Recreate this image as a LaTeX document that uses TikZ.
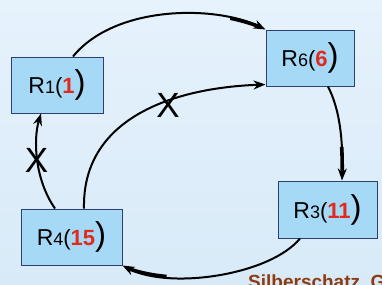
\documentclass[tikz,border=0pt]{standalone}
\usepackage{fontspec}
\setmainfont{Liberation Sans}
\usetikzlibrary{arrows.meta}
\definecolor{bgtop}{HTML}{E6F2FC}
\definecolor{bgbot}{HTML}{D8EAF8}
\definecolor{boxfill}{HTML}{A5D9F6}
\definecolor{boxdraw}{HTML}{2E3F73}
\definecolor{numred}{HTML}{E02A1E}
\definecolor{credit}{HTML}{8E3B12}
\tikzset{
  proc/.style={draw=boxdraw, fill=boxfill, line width=1pt, inner sep=0pt, minimum height=56pt},
  conn/.style={line width=2pt, -{Stealth[length=12pt,width=9pt]}},
  heavy/.style={line width=3.6pt, shorten >=5pt},
  cross/.style={font=\fontsize{35}{35}\selectfont, inner sep=0pt},
}
\newcommand{\proclabel}[2]{{\fontsize{23}{23}\selectfont R}{\fontsize{18}{18}\selectfont #1}{\fontsize{22}{22}\selectfont (}{\fontsize{22}{22}\selectfont\bfseries\color{numred}#2}{\fontsize{33}{33}\selectfont )}}
\begin{document}
\begin{tikzpicture}[x=1pt,y=-1pt]
\useasboundingbox (0,0) rectangle (382,284);
\clip (0,0) rectangle (382,284);
\shade[top color=bgtop, bottom color=bgbot] (0,0) rectangle (382,284);
\node[proc, minimum width=92pt] (r1) at (57,85) {\proclabel{1}{1}};
\node[proc, minimum width=88pt] (r6) at (310,58) {\proclabel{6}{6}};
\node[proc, minimum width=101pt] (r4) at (71.5,237) {\proclabel{4}{15}};
\node[proc, minimum width=99pt, minimum height=57pt] (r3) at (327.5,209.5) {\proclabel{3}{11}};
% R1 -> R6
\draw[conn] ([xshift=16pt]r1.north) .. controls (115,5) and (215,5) .. (r6.north west);
\draw[heavy] (230.3,18.2) .. controls (243.6,21) and (255.8,25) .. (r6.north west);
% R4 -> R6
\draw[conn] ([xshift=12.5pt]r4.north) .. controls (82,120) and (170,88) .. ([yshift=2pt]r6.south west);
% R6 -> R3
\draw[conn] ([xshift=18pt]r6.south) .. controls (340,110) and (343,140) .. ([xshift=14.5pt]r3.north);
\draw[heavy] (341.7,146.9) .. controls (342.24,157.4) and (342.3,168.7) .. ([xshift=14.5pt]r3.north);
% R3 -> R4
\draw[conn] ([xshift=-27.5pt]r3.south) .. controls (270,275) and (170,290) .. (r4.south east);
\draw[heavy] (166.6,276.5) .. controls (150.25,275) and (134,271.25) .. (r4.south east);
% R4 -> R1
\draw[conn] ([xshift=-16.5pt]r4.north) .. controls (35,180) and (33,140) .. ([xshift=-16pt]r1.south);
\node[cross] (x1) at (168,105) {X};
\node[cross] (x2) at (36.5,160.5) {X};
\node[anchor=base west, text=credit, font=\fontsize{19}{19}\selectfont\bfseries, inner sep=0pt] (cr) at (248,288.5) {Silberschatz, G};
\end{tikzpicture}
\end{document}
